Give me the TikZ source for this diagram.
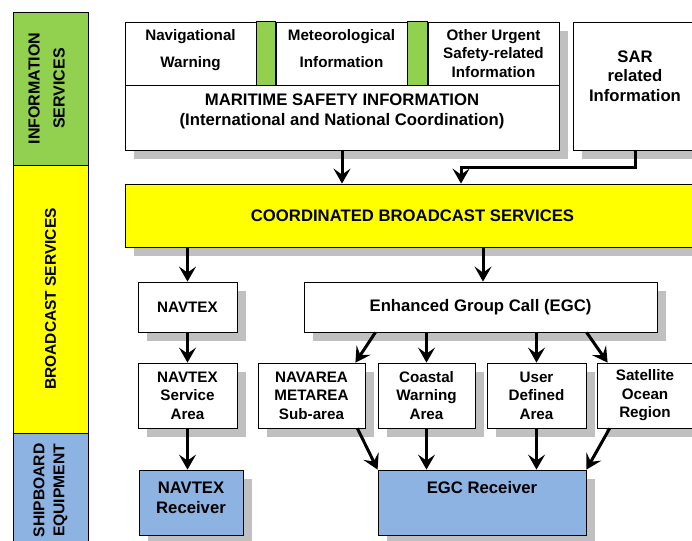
\documentclass[tikz,border=0pt]{standalone}
\usepackage{fontspec}
\setmainfont{Liberation Sans}
\usetikzlibrary{arrows.meta,shadows}
\definecolor{infogreen}{RGB}{146,208,80}
\definecolor{bcyellow}{RGB}{255,255,0}
\definecolor{shipblue}{RGB}{141,179,226}
\definecolor{shadowgray}{RGB}{192,192,192}

\begin{document}
\begin{tikzpicture}[x=1pt,y=-1pt,
	every node/.style={font=\fontsize{15.2}{18.5}\selectfont\bfseries},
	bigtext/.style={font=\fontsize{16.7}{19.5}\selectfont\bfseries},
	box/.style={draw,line width=0.8pt,fill=white,inner sep=0pt,align=center},
	shbox/.style={box,drop shadow={shadow xshift=9pt,shadow yshift=-9pt,fill=shadowgray,opacity=1}},
	bar/.style={draw,line width=0.8pt,inner sep=0pt,align=center,rotate=90,minimum height=75pt},
	arr/.style={line width=3pt,-{Stealth[length=15pt,width=17pt,inset=6pt]}}]
	\useasboundingbox (0,0) rectangle (692,540);

	% left column
	\node[bar,fill=infogreen,minimum width=153pt,text depth=8pt,font=\fontsize{16}{25}\selectfont\bfseries] (info) at (50.5,88.5) {INFORMATION\\SERVICES};
	\node[bar,fill=bcyellow,minimum width=268pt,font=\fontsize{15.5}{18}\selectfont\bfseries] (bcast) at (50.5,299) {BROADCAST SERVICES};
	\node[bar,fill=shipblue,minimum width=115pt,font=\fontsize{15.6}{20}\selectfont\bfseries] (ship) at (50.5,490.5) {SHIPBOARD\\EQUIPMENT};

	% information services
	\node[box,minimum width=131pt,minimum height=63pt,text depth=11pt,font=\fontsize{15.2}{27}\selectfont\bfseries] (nav) at (190.5,53.5) {Navigational\\Warning};
	\node[box,minimum width=131pt,minimum height=63pt,text depth=11pt,font=\fontsize{15.2}{27}\selectfont\bfseries] (met) at (341.5,53.5) {Meteorological\\Information};
	\node[shbox,minimum width=131pt,minimum height=63pt] (oth) at (493.5,53.5) {Other Urgent\\Safety-related\\Information};
	\filldraw[fill=infogreen,line width=0.8pt] (nav.north east) rectangle (met.south west);
	\filldraw[fill=infogreen,line width=0.8pt] (met.north east) rectangle (oth.south west);
	\node[shbox,bigtext,minimum width=434pt,minimum height=65pt,text depth=16pt] (msi) at (342,117.5) {MARITIME SAFETY INFORMATION\\(International and National Coordination)};
	\node[shbox,bigtext,minimum width=124pt,minimum height=128pt,text depth=20pt] (sar) at (635,86) {SAR\\related\\Information};

	% broadcast services
	\node[shbox,bigtext,fill=bcyellow,minimum width=575pt,minimum height=63pt] (cbs) at (412.5,215.5) {COORDINATED BROADCAST SERVICES};
	\node[shbox,minimum width=99pt,minimum height=50pt] (ntx) at (187.5,307) {NAVTEX};
	\node[shbox,bigtext,minimum width=353pt,minimum height=50pt] (egc) at (480.5,307) {Enhanced Group Call (EGC)};
	\node[shbox,minimum width=99pt,minimum height=65pt] (ntxa) at (187.5,395.5) {NAVTEX\\Service\\Area};
	\node[shbox,minimum width=107pt,minimum height=65pt] (nava) at (311.5,395.5) {NAVAREA\\METAREA\\Sub-area};
	\node[shbox,minimum width=97pt,minimum height=65pt] (coast) at (426.5,395.5) {Coastal\\Warning\\Area};
	\node[shbox,minimum width=99pt,minimum height=65pt] (user) at (536.5,395.5) {User\\Defined\\Area};
	\node[shbox,minimum width=96pt,minimum height=65pt] (sat) at (645,395.5) {Satellite\\Ocean\\Region};

	% shipboard equipment
	\node[shbox,bigtext,fill=shipblue,minimum width=104pt,minimum height=65pt,text depth=10pt] (ntxr) at (191,502.5) {NAVTEX\\Receiver};
	\node[shbox,bigtext,fill=shipblue,minimum width=208pt,minimum height=65pt,text depth=31pt] (egcr) at (482,502.5) {EGC Receiver};

	% connectors
	\coordinate (sarbend) at (461,167);
	\draw[arr] (msi.south) -- (msi.south |- cbs.north);
	\draw[arr] (sar.south) |- (sarbend) -- (sarbend |- cbs.north);
	\draw[arr] (ntx.north |- cbs.south) -- (ntx.north);
	\draw[arr] ([xshift=2.5pt]egc.north |- cbs.south) -- ([xshift=2.5pt]egc.north);
	\draw[arr] (ntx.south) -- (ntxa.north);
	\draw[arr] (ntxa.south) -- (ntxa.south |- ntxr.north);
	\draw[arr] ([xshift=10pt]nava.north east |- egc.south) -- ([xshift=-10pt]nava.north east);
	\draw[arr] (coast.north |- egc.south) -- (coast.north);
	\draw[arr] (user.north |- egc.south) -- (user.north);
	\draw[arr] ([xshift=-10pt]sat.north west |- egc.south) -- ([xshift=11pt]sat.north west);
	\draw[arr] ([xshift=-8pt]nava.south east) -- (egcr.north west);
	\draw[arr] (coast.south) -- (coast.south |- egcr.north);
	\draw[arr] (user.south) -- (user.south |- egcr.north);
	\draw[arr] ([xshift=13pt]sat.south west) -- (egcr.north east);
\end{tikzpicture}
\end{document}
